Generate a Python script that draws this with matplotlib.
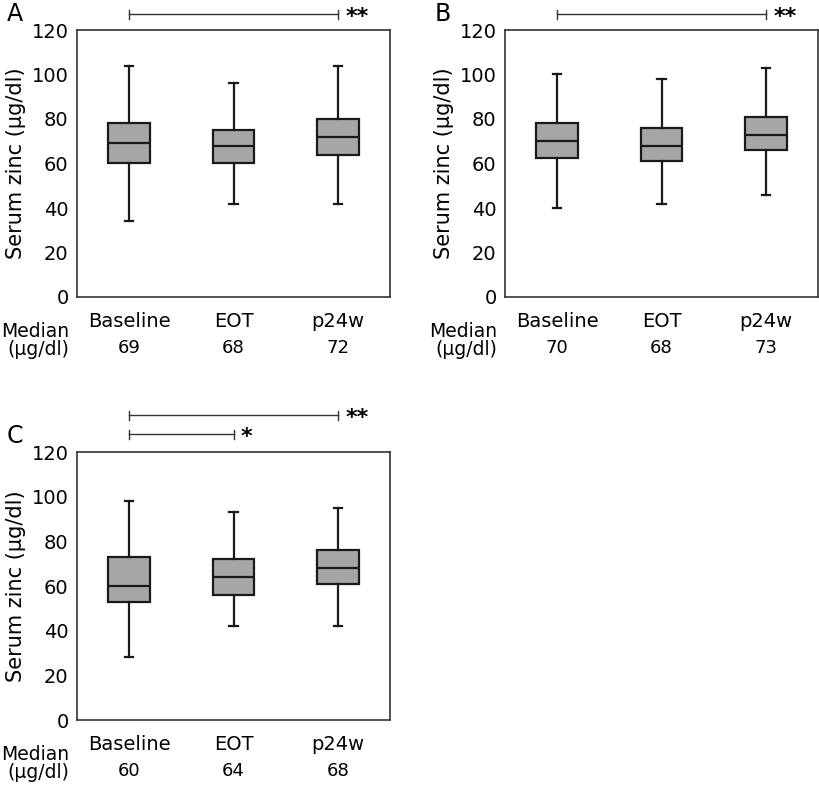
import matplotlib
matplotlib.use("Agg")
import matplotlib.pyplot as plt
from matplotlib.transforms import blended_transform_factory

plt.rcParams['font.family'] = ['DejaVu Sans']

groups = ['Baseline', 'EOT', 'p24w']

# whisker low, q1, median, q3, whisker high
a_low = [34, 42, 42]
a_q1 = [60, 60, 64]
a_med = [69, 68, 72]
a_q3 = [78, 75, 80]
a_high = [104, 96, 104]

b_low = [40, 42, 46]
b_q1 = [62.5, 61, 66]
b_med = [70, 68, 73]
b_q3 = [78, 76, 81]
b_high = [100, 98, 103]

c_low = [28, 42, 42]
c_q1 = [53, 56, 61]
c_med = [60, 64, 68]
c_q3 = [73, 72, 76]
c_high = [98, 93, 95]

a_median_txt = ['69', '68', '72']
b_median_txt = ['70', '68', '73']
c_median_txt = ['60', '64', '68']

# significance brackets: (from, to, label, y)
a_sig = [(1, 3, '**', 127)]
b_sig = [(1, 3, '**', 127)]
c_sig = [(1, 3, '**', 136.5), (1, 2, '*', 128)]

W, H = 819, 787
fig = plt.figure(figsize=(W / 100, H / 100), dpi=100)


def px_axes(left, top, right, bottom):
    return fig.add_axes([left / W, 1 - bottom / H, (right - left) / W, (bottom - top) / H])


def panel(ax, low, q1, med, q3, high, med_txt, sigs, letter):
    stats = []
    for i in range(3):
        stats.append(dict(whislo=low[i], q1=q1[i], med=med[i], q3=q3[i], whishi=high[i], fliers=[]))
    ax.bxp(stats, positions=[1, 2, 3], widths=0.4, patch_artist=True, showfliers=False,
           capwidths=0.08,
           boxprops=dict(facecolor='#a6a6a6', edgecolor='#1a1a1a', linewidth=1.6),
           medianprops=dict(color='#1a1a1a', linewidth=1.6),
           whiskerprops=dict(color='#1a1a1a', linewidth=1.6),
           capprops=dict(color='#1a1a1a', linewidth=1.6))
    ax.set_xlim(0.5, 3.5)
    ax.set_ylim(0, 120)
    ax.set_yticks([0, 20, 40, 60, 80, 100, 120])
    ax.tick_params(axis='y', length=0, labelsize=14, pad=6)
    ax.tick_params(axis='x', length=0, labelsize=14, pad=11)
    ax.set_xticks([1, 2, 3])
    ax.set_xticklabels(groups)
    for s in ax.spines.values():
        s.set_color('#333333')
        s.set_linewidth(1.2)
    ax.set_ylabel('Serum zinc (µg/dl)', fontsize=15, labelpad=4)

    tr = blended_transform_factory(ax.transData, ax.transAxes)
    for i, t in enumerate(med_txt):
        ax.text(i + 1, -0.19, t, transform=tr, ha='center', va='center', fontsize=13)
    ax.text(-0.026, -0.163, 'Median\n(µg/dl)', transform=ax.transAxes, ha='right', va='center',
            multialignment='right', linespacing=0.9, fontsize=13.5)

    for x0, x1, lab, y in sigs:
        ax.plot([x0, x1], [y, y], color='#333333', lw=1, clip_on=False)
        ax.plot([x0, x0], [y - 2, y + 2], color='#333333', lw=1, clip_on=False)
        ax.plot([x1, x1], [y - 2, y + 2], color='#333333', lw=1, clip_on=False)
        ax.text(x1 + 0.07, y - 1.3, lab, ha='left', va='center', fontsize=16,
                fontweight='bold', clip_on=False)

    ax.text(-0.225, 1.06, letter, transform=ax.transAxes, ha='left', va='center', fontsize=17)


ax_a = px_axes(77, 30, 390, 297)
ax_b = px_axes(505, 30, 818, 297)
ax_c = px_axes(77, 452, 390, 720)

panel(ax_a, a_low, a_q1, a_med, a_q3, a_high, a_median_txt, a_sig, 'A')
panel(ax_b, b_low, b_q1, b_med, b_q3, b_high, b_median_txt, b_sig, 'B')
panel(ax_c, c_low, c_q1, c_med, c_q3, c_high, c_median_txt, c_sig, 'C')

fig.savefig('out.png', dpi=100)
